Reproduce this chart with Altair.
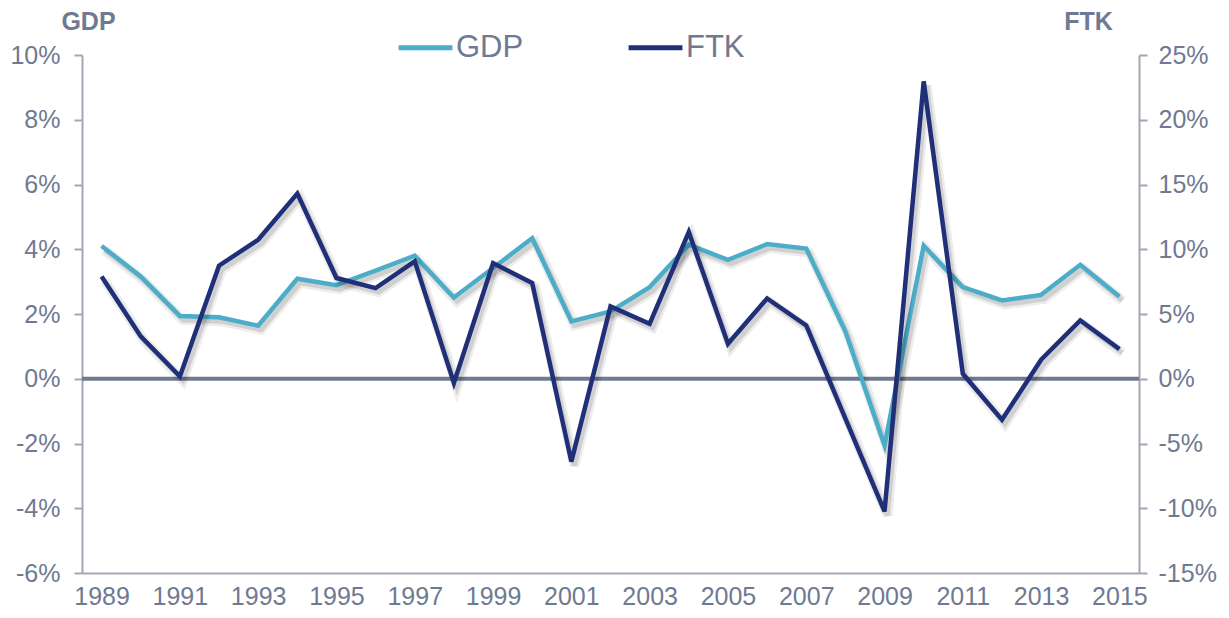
import altair as alt
import pandas as pd

years = list(range(1989, 2016))
gdp = [4.10, 3.16, 1.94, 1.90, 1.64, 3.09, 2.89, 3.34, 3.80, 2.51, 3.42, 4.34, 1.77, 2.08,
       2.83, 4.14, 3.67, 4.16, 4.02, 1.46, -2.06, 4.11, 2.83, 2.42, 2.59, 3.52, 2.54]
ftk = [7.9, 3.27, 0.18, 8.73, 10.73, 14.3, 7.78, 7.0, 9.06, -0.33, 8.93, 7.39, -6.4, 5.58,
       4.25, 11.33, 2.7, 6.2, 4.12, -3.07, -10.25, 22.96, 0.39, -3.17, 1.47, 4.5, 2.29]
series_names = ["GDP", "FTK"]
series_colors = ["#4BADC7", "#1F2F78"]
gdp_ticks = [-6, -4, -2, 0, 2, 4, 6, 8, 10]
ftk_ticks = [-15, -10, -5, 0, 5, 10, 15, 20, 25]
x_tick_years = years[::2]

df_gdp = pd.DataFrame({"year": years, "v": gdp, "series": "GDP"})
df_ftk = pd.DataFrame({"year": years, "v": ftk, "series": "FTK"})
df_zero = pd.DataFrame({"v": [0]})

TXT = "#6F7A92"
AX = "#A3A7B3"
FONT = "Liberation Sans"

x_enc = alt.X(
    "year:O",
    scale=alt.Scale(type="point", padding=0.5),
    axis=alt.Axis(values=x_tick_years, labelAngle=0, ticks=False, title=None,
                  labelFontSize=25, labelColor=TXT, labelFont=FONT, labelPadding=11,
                  domainColor=AX, domainWidth=2, grid=False),
)

left_axis = alt.Axis(values=gdp_ticks, labelExpr="datum.value + '%'", title="GDP",
                     titleAngle=0, titleX=6, titleY=-34, titleAlign="center",
                     titleBaseline="middle", titleFontSize=25, titleFontWeight="bold",
                     titleColor=TXT, titleFont=FONT, labelFontSize=25, labelColor=TXT,
                     labelFont=FONT, labelPadding=14, tickSize=8, tickColor=AX,
                     tickWidth=2, domainColor=AX, domainWidth=2, grid=False)
right_axis = alt.Axis(orient="right", values=ftk_ticks, labelExpr="datum.value + '%'",
                      title="FTK", titleAngle=0, titleX=-51, titleY=-34,
                      titleAlign="center", titleBaseline="middle", titleFontSize=25,
                      titleFontWeight="bold", titleColor=TXT, titleFont=FONT,
                      labelFontSize=25, labelColor=TXT, labelFont=FONT, labelPadding=11,
                      tickSize=8, tickColor=AX, tickWidth=2, domainColor=AX,
                      domainWidth=2, grid=False)

y_left = alt.Y("v:Q", scale=alt.Scale(domain=[-6, 10], nice=False, zero=False), axis=left_axis)
y_right = alt.Y("v:Q", scale=alt.Scale(domain=[-15, 25], nice=False, zero=False), axis=right_axis)

color_enc = alt.Color(
    "series:N",
    scale=alt.Scale(domain=series_names, range=series_colors),
    legend=alt.Legend(orient="none", legendX=314, legendY=-37, direction="horizontal",
                      title=None, symbolType="stroke", symbolStrokeWidth=5,
                      symbolSize=2900, labelFontSize=31, labelColor=TXT, labelFont=FONT,
                      labelOffset=1, columnPadding=94, symbolOpacity=1),
)

zero_rule = alt.Chart(df_zero).mark_rule(color="#717A8F", strokeWidth=4).encode(y=y_left)

def shadow(df, y):
    base = alt.Chart(df)
    s1 = base.mark_line(color="#000000", opacity=0.07, strokeWidth=10, xOffset=3,
                        yOffset=4).encode(x=x_enc, y=y)
    s2 = base.mark_line(color="#000000", opacity=0.12, strokeWidth=5, xOffset=3,
                        yOffset=4).encode(x=x_enc, y=y)
    return s1 + s2

gdp_line = alt.Chart(df_gdp).mark_line(strokeWidth=4.5).encode(x=x_enc, y=y_left, color=color_enc)
ftk_line = alt.Chart(df_ftk).mark_line(strokeWidth=4.5).encode(x=x_enc, y=y_right, color=color_enc)

left = alt.layer(zero_rule, shadow(df_gdp, y_left), gdp_line)
right = alt.layer(shadow(df_ftk, y_right), ftk_line)

chart = alt.layer(left, right).resolve_scale(y="independent").properties(
    width=1057, height=518,
    autosize=alt.AutoSizeParams(type="none"),
    padding={"left": 74, "top": 47, "right": 82, "bottom": 37},
).configure_view(stroke=None)

chart.save("out.html", embed_options={"renderer": "svg", "actions": False})
